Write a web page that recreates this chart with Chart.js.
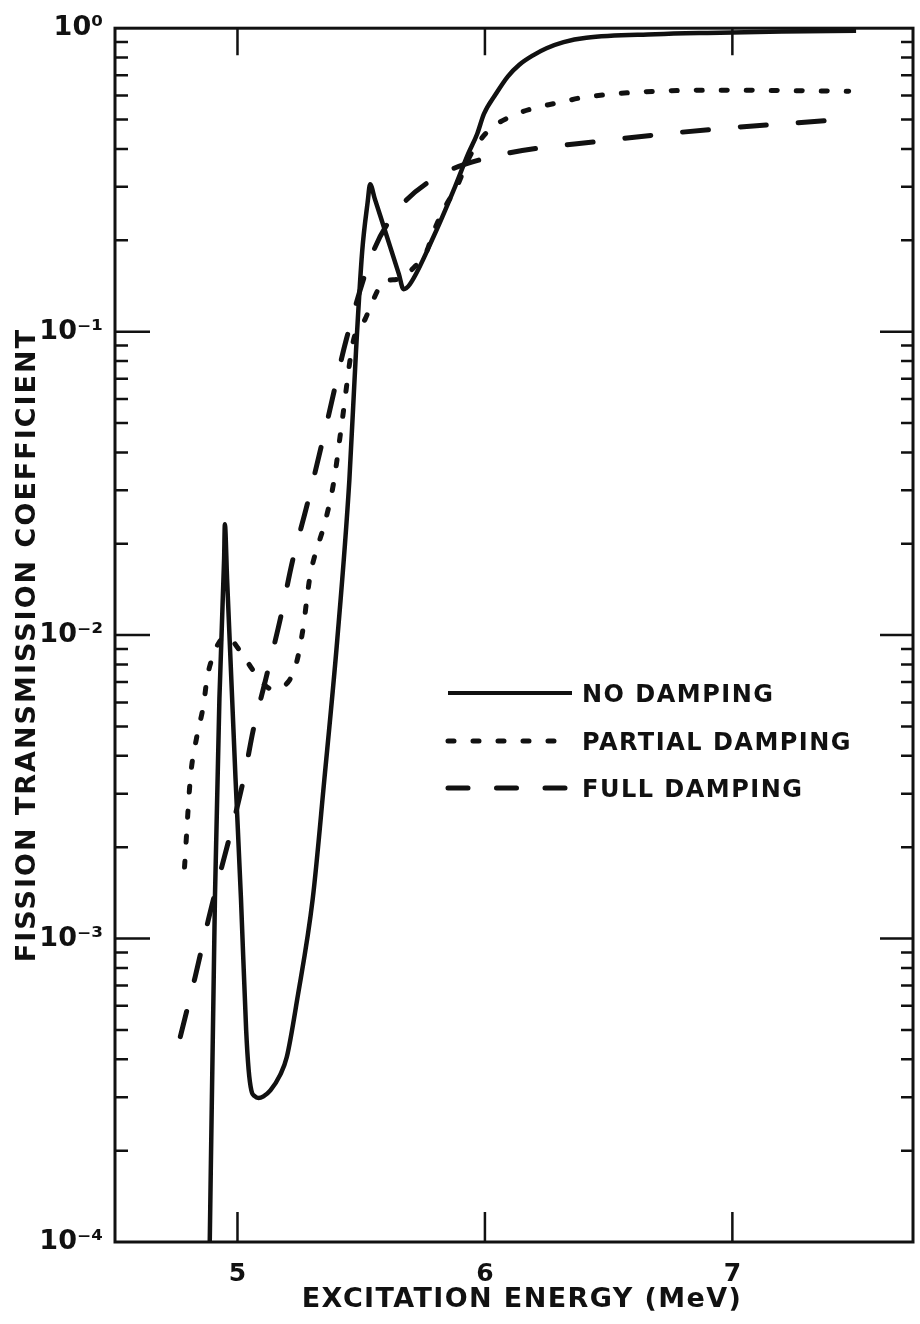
<!DOCTYPE html>
<html>
<head>
<meta charset="utf-8">
<title>Fission transmission coefficient</title>
<script src="https://cdn.jsdelivr.net/npm/chart.js@4"></script>
<style>
  html, body { margin: 0; padding: 0; background: #fff; }
  canvas { display: block; }
</style>
</head>
<body>
<canvas id="chart" width="920" height="1324"></canvas>
<script>
// excitation energy (MeV) and fission transmission coefficient, one pair per case
const noDampingE = [4.884, 4.909, 4.927, 4.946, 4.949, 4.958, 4.992, 5.014, 5.035, 5.045, 5.056, 5.07, 5.085,
  5.105, 5.133, 5.173, 5.199, 5.242, 5.304, 5.351, 5.403, 5.452, 5.479, 5.504, 5.526, 5.536, 5.555, 5.652,
  5.671, 5.696, 5.794, 5.879, 5.932, 5.969, 5.996, 6.044, 6.093, 6.139, 6.198, 6.249, 6.318, 6.41, 6.69,
  6.9, 7.2, 7.5];
const noDampingT = [6e-5, 1.38e-3, 6.2e-3, 0.0179, 0.0232, 0.0153, 3.38e-3, 1.36e-3, 5.0e-4, 3.7e-4, 3.16e-4, 3.02e-4, 2.98e-4,
  3.02e-4, 3.16e-4, 3.56e-4, 4.06e-4, 6.35e-4, 1.35e-3, 3.34e-3, 9.6e-3, 0.0323, 0.0863, 0.184, 0.267, 0.306, 0.274, 0.155,
  0.138, 0.143, 0.207, 0.30, 0.385, 0.449, 0.522, 0.607, 0.694, 0.758, 0.817, 0.859, 0.90, 0.93, 0.955,
  0.965, 0.975, 0.98];

const partialE = [4.786, 4.81, 4.835, 4.863, 4.877, 4.898, 4.927, 4.96, 5.0, 5.047, 5.086, 5.138, 5.207,
  5.24, 5.258, 5.27, 5.28, 5.293, 5.315, 5.344, 5.37, 5.39, 5.423, 5.468, 5.516, 5.55, 5.59, 5.652,
  5.714, 5.762, 5.794, 5.837, 5.887, 5.94, 6.014, 6.125, 6.218, 6.315, 6.40, 6.94, 7.47];
const partialT = [1.72e-3, 3.4e-3, 4.6e-3, 5.9e-3, 7.2e-3, 8.4e-3, 9.5e-3, 9.9e-3, 9.1e-3, 8.0e-3, 7.2e-3, 6.65e-3, 7.05e-3,
  8.2e-3, 9.7e-3, 0.0112, 0.0131, 0.0156, 0.0186, 0.0221, 0.0267, 0.0323, 0.0508, 0.093, 0.110, 0.128, 0.146, 0.149,
  0.163, 0.182, 0.215, 0.256, 0.301, 0.38, 0.459, 0.52, 0.55, 0.572, 0.592, 0.625, 0.62];

const fullE = [4.769, 4.829, 4.883, 4.905, 5.028, 5.063, 5.115, 5.173, 5.222, 5.281, 5.363, 5.44, 5.548,
  5.639, 5.798, 6.028, 6.486, 6.939, 7.415, 7.48];
const fullT = [4.75e-4, 7.48e-4, 1.16e-3, 1.37e-3, 3.44e-3, 4.84e-3, 7.2e-3, 0.0113, 0.0175, 0.0268, 0.0508, 0.0944, 0.183,
  0.247, 0.321, 0.377, 0.426, 0.466, 0.499, 0.505];

const seriesNames = ['NO DAMPING', 'PARTIAL DAMPING', 'FULL DAMPING'];
const xTicks = [5, 6, 7];
const xTickLabels = ['5', '6', '7'];
const yTicks = [1e-4, 1e-3, 1e-2, 1e-1, 1];
const yTickLabels = ['10⁻⁴', '10⁻³', '10⁻²', '10⁻¹', '10⁰'];
const xTitle = 'EXCITATION ENERGY (MeV)';
const yTitle = 'FISSION TRANSMISSION COEFFICIENT';

const ink = '#111';
const face = '"DejaVu Sans", sans-serif';

function points(xs, ys) {
  return xs.map((x, i) => ({ x: x, y: ys[i] }));
}

// box, inward ticks (log minors on both sides) and the two axis titles
const frame = {
  id: 'frame',
  afterDraw(chart) {
    const { ctx, chartArea: a, scales: { x, y } } = chart;
    ctx.save();
    ctx.strokeStyle = ink;
    ctx.lineWidth = 3;
    ctx.strokeRect(a.left, a.top, a.right - a.left, a.bottom - a.top);

    ctx.lineWidth = 2.5;
    ctx.beginPath();
    xTicks.forEach(v => {
      const px = x.getPixelForValue(v);
      ctx.moveTo(px, a.bottom); ctx.lineTo(px, a.bottom - 30);
      ctx.moveTo(px, a.top); ctx.lineTo(px, a.top + 27);
    });
    for (let k = -4; k < 0; k++) {
      for (let m = 1; m <= 9; m++) {
        const v = m * Math.pow(10, k);
        if (v <= y.min) continue;
        const py = y.getPixelForValue(v);
        const major = m === 1;
        ctx.moveTo(a.left, py); ctx.lineTo(a.left + (major ? 35 : 13), py);
        ctx.moveTo(a.right, py); ctx.lineTo(a.right - (major ? 33 : 12), py);
      }
    }
    ctx.stroke();

    ctx.fillStyle = ink;
    ctx.font = 'bold 27px ' + face;
    ctx.letterSpacing = '1.4px';
    ctx.textAlign = 'center';
    ctx.textBaseline = 'middle';
    ctx.fillText(xTitle, (a.left + a.right) / 2 + 8, 1300);

    ctx.letterSpacing = '2px';
    ctx.translate(28, (a.top + a.bottom) / 2 + 10);
    ctx.rotate(-Math.PI / 2);
    ctx.fillText(yTitle, 0, 0);
    ctx.restore();
  }
};

// key with line samples to the left of each name
const legendDash = [[], [6, 19], [20, 28.5]];
const key = {
  id: 'key',
  afterDraw(chart) {
    const { ctx } = chart;
    const rows = [693, 741, 788];
    ctx.save();
    chart.data.datasets.forEach((ds, i) => {
      ctx.strokeStyle = ds.borderColor;
      ctx.lineWidth = i === 0 ? 4 : 5;
      ctx.lineCap = i === 0 ? 'butt' : 'round';
      ctx.setLineDash(legendDash[i]);
      ctx.beginPath();
      ctx.moveTo(448, rows[i]);
      ctx.lineTo(572, rows[i]);
      ctx.stroke();
    });
    ctx.setLineDash([]);
    ctx.fillStyle = ink;
    ctx.font = 'bold 24px ' + face;
    ctx.letterSpacing = '1.5px';
    ctx.textAlign = 'left';
    ctx.textBaseline = 'alphabetic';
    seriesNames.forEach((name, i) => ctx.fillText(name, 582, rows[i] + 9));
    ctx.restore();
  }
};

const lineStyle = {
  borderColor: ink,
  pointRadius: 0,
  fill: false,
  cubicInterpolationMode: 'monotone',
  borderJoinStyle: 'round'
};

new Chart(document.getElementById('chart'), {
  type: 'line',
  data: {
    datasets: [
      Object.assign({ label: seriesNames[0], data: points(noDampingE, noDampingT), borderWidth: 4.5 }, lineStyle),
      Object.assign({ label: seriesNames[1], data: points(partialE, partialT), borderWidth: 5,
        borderDash: [6, 19], borderCapStyle: 'round' }, lineStyle),
      Object.assign({ label: seriesNames[2], data: points(fullE, fullT), borderWidth: 5,
        borderDash: [26, 32], borderCapStyle: 'round' }, lineStyle)
    ]
  },
  options: {
    responsive: false,
    animation: false,
    devicePixelRatio: 1,
    layout: { padding: { top: 24, right: 7, left: 0, bottom: 0 } },
    plugins: { legend: { display: false }, tooltip: { enabled: false } },
    scales: {
      x: {
        type: 'linear',
        min: 4.505,
        max: 7.73,
        afterBuildTicks: s => { s.ticks = xTicks.map(v => ({ value: v })); },
        afterFit: s => { s.height = 82; },
        grid: { display: false, drawTicks: false },
        border: { display: false },
        ticks: {
          color: ink,
          padding: 17,
          maxRotation: 0,
          font: { family: face, size: 25, weight: 'bold' },
          callback: v => xTickLabels[xTicks.indexOf(v)]
        }
      },
      y: {
        type: 'logarithmic',
        min: 1e-4,
        max: 1,
        afterBuildTicks: s => { s.ticks = yTicks.map(v => ({ value: v })); },
        afterFit: s => { s.width = 115; },
        grid: { display: false, drawTicks: false },
        border: { display: false },
        ticks: {
          color: ink,
          padding: 12,
          font: { family: face, size: 27, weight: 'bold' },
          callback: v => yTickLabels[yTicks.indexOf(v)]
        }
      }
    }
  },
  plugins: [frame, key]
});
</script>
</body>
</html>
